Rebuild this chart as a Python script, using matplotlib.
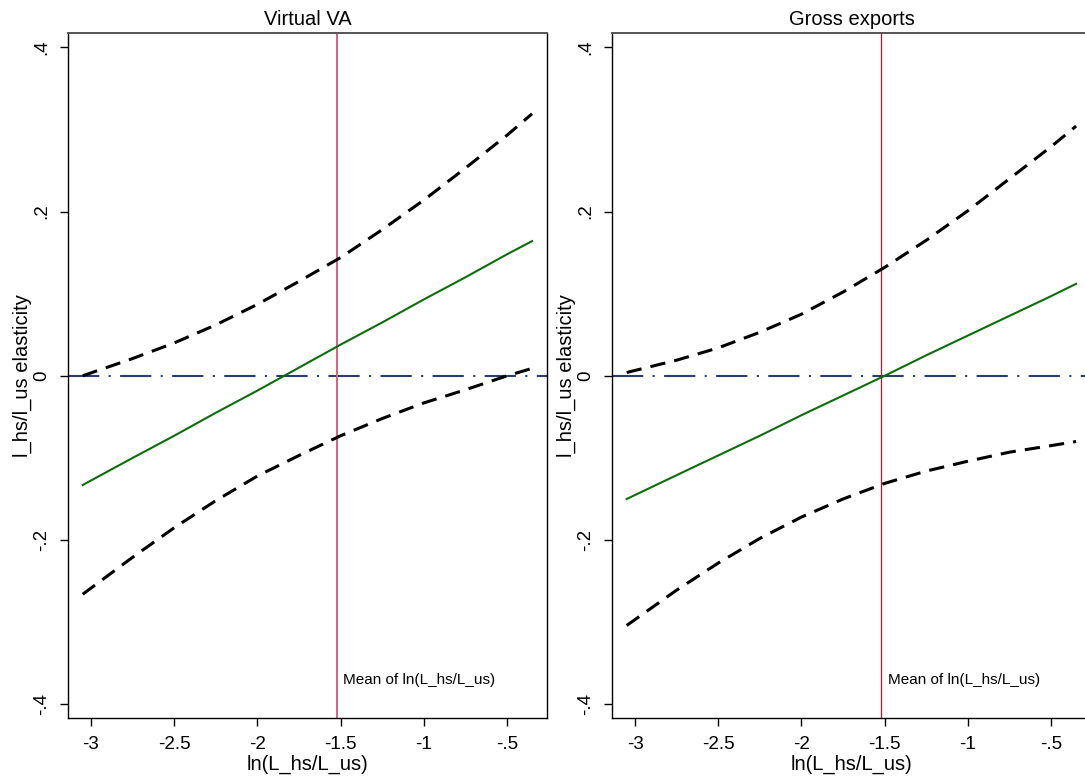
import matplotlib
matplotlib.use("Agg")
import matplotlib.pyplot as plt
import numpy as np

plt.rcParams['font.family'] = ['Liberation Sans', 'DejaVu Sans']

# x grid of ln(L_hs/L_us) where the curves were read
x = [-3.05, -2.75, -2.5, -2.25, -2.0, -1.75, -1.5, -1.25, -1.0, -0.75, -0.5, -0.35]

# Virtual VA panel
va_est = [-0.133, -0.100, -0.073, -0.045, -0.018, 0.010, 0.038, 0.065, 0.093, 0.120, 0.148, 0.164]
va_up = [0.000, 0.021, 0.040, 0.062, 0.087, 0.115, 0.144, 0.178, 0.214, 0.253, 0.293, 0.319]
va_lo = [-0.266, -0.221, -0.185, -0.152, -0.122, -0.097, -0.073, -0.052, -0.033, -0.017, 0.000, 0.009]

# Gross exports panel
gx_est = [-0.150, -0.121, -0.097, -0.073, -0.048, -0.024, 0.000, 0.025, 0.049, 0.073, 0.097, 0.112]
gx_up = [0.004, 0.019, 0.034, 0.053, 0.075, 0.102, 0.132, 0.165, 0.201, 0.240, 0.279, 0.304]
gx_lo = [-0.304, -0.261, -0.228, -0.198, -0.172, -0.150, -0.131, -0.116, -0.104, -0.093, -0.085, -0.080]

mean_x = -1.523
titles = ["Virtual VA", "Gross exports"]
xticks = [-3, -2.5, -2, -1.5, -1, -0.5]
xticklabels = ["-3", "-2.5", "-2", "-1.5", "-1", "-.5"]
yticks = [-0.4, -0.2, 0, 0.2, 0.4]
yticklabels = ["-.4", "-.2", "0", ".2", ".4"]

fig = plt.figure(figsize=(10.85, 7.82), dpi=100)
ax1 = fig.add_axes([0.0627, 0.0815, 0.4415, 0.8759])
ax2 = fig.add_axes([0.5641, 0.0815, 0.4415, 0.8759])

panels = [(ax1, va_est, va_up, va_lo, '#dc6080', 1.4),
          (ax2, gx_est, gx_up, gx_lo, '#c0102c', 0.9)]

for i, (ax, est, up, lo, vcol, vlw) in enumerate(panels):
    ax.axhline(0, color='#2a3d6e', lw=1.5, ls=(0, (15, 4.5, 1, 4.5)), zorder=1)
    ax.axvline(mean_x, color=vcol, lw=vlw, zorder=2)
    ax.plot(x, up, color='black', lw=2.2, ls=(0, (5, 3)), zorder=3)
    ax.plot(x, lo, color='black', lw=2.2, ls=(0, (5, 3)), zorder=3)
    ax.plot(x, est, color='#0b6e0b', lw=1.5, zorder=4)
    ax.text(mean_x + 0.04, -0.37, "Mean of ln(L_hs/L_us)", fontsize=11,
            va='center', ha='left')
    ax.set_xlim(-3.138, -0.26)
    ax.set_ylim(-0.417, 0.417)
    ax.set_xticks(xticks)
    ax.set_xticklabels(xticklabels)
    ax.set_yticks(yticks)
    ax.set_yticklabels(yticklabels, rotation=90, va='center')
    ax.tick_params(labelsize=13.5, length=6, width=1, direction='out', pad=7)
    ax.set_title(titles[i], fontsize=14.5, pad=6)
    ax.set_xlabel("ln(L_hs/L_us)", fontsize=14.5, labelpad=1)
    ax.set_ylabel("l_hs/l_us elasticity", fontsize=14.5, labelpad=1)
    for s in ax.spines.values():
        s.set_linewidth(1.0)
        s.set_color('black')
    ax.spines['top'].set_color('#555555')
    ax.spines['top'].set_linewidth(1.4)

fig.savefig("out.png", dpi=100)
